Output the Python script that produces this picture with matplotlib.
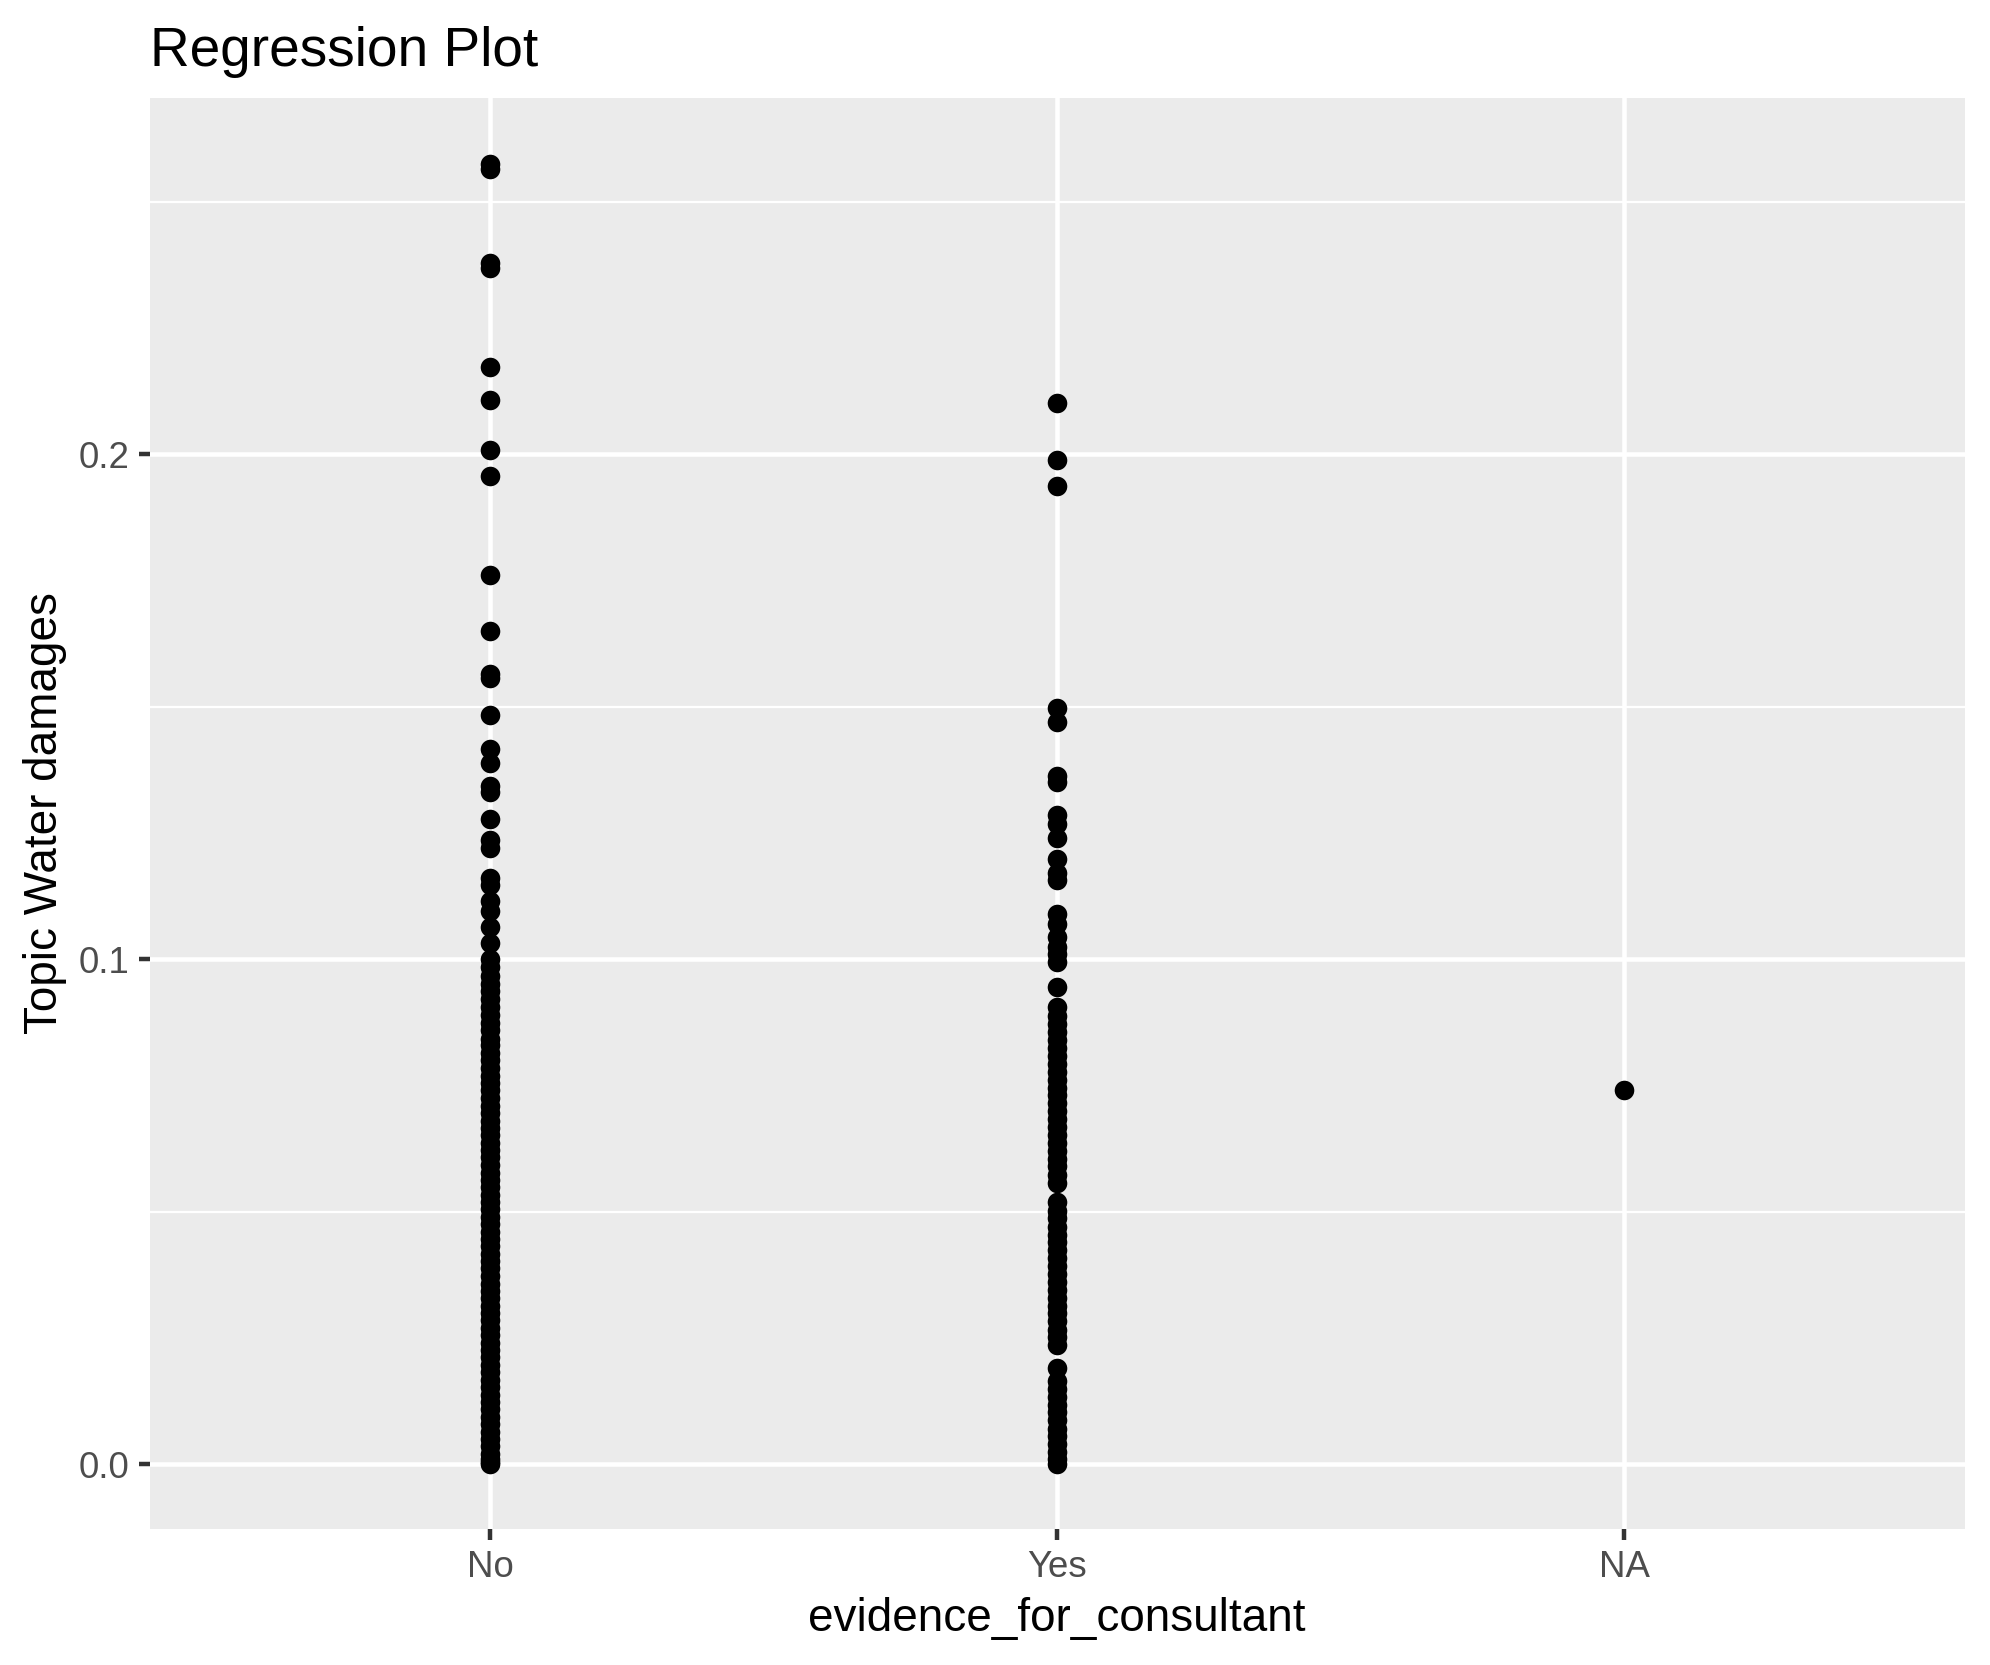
import matplotlib
matplotlib.use("Agg")
import matplotlib.pyplot as plt
from matplotlib.ticker import FixedLocator

plt.rcParams['font.family'] = ['Liberation Sans', 'DejaVu Sans']

categories = ["No", "Yes", "NA"]

no_values = [
    0.2575, 0.2565, 0.2379, 0.2369, 0.2173, 0.2108, 0.2008, 0.1957, 0.1761,
    0.1651, 0.1565, 0.1558, 0.1485, 0.1417, 0.1389, 0.1344, 0.1332, 0.1279,
    0.1236, 0.1221, 0.1161, 0.1148, 0.1116, 0.1095, 0.1065, 0.1033, 0.1000,
    0.0985, 0.0968, 0.0952, 0.0938, 0.0921, 0.0905, 0.0890, 0.0874, 0.0860,
    0.0843, 0.0830, 0.0815, 0.0800, 0.0784, 0.0770, 0.0755, 0.0741, 0.0725,
    0.0710, 0.0696, 0.0681, 0.0666, 0.0652, 0.0637, 0.0622, 0.0608, 0.0593,
    0.0578, 0.0563, 0.0549, 0.0534, 0.0520, 0.0505, 0.0490, 0.0476, 0.0461,
    0.0446, 0.0432, 0.0417, 0.0402, 0.0388, 0.0373, 0.0358, 0.0344, 0.0329,
    0.0314, 0.0300, 0.0285, 0.0270, 0.0256, 0.0241, 0.0226, 0.0212, 0.0197,
    0.0182, 0.0168, 0.0153, 0.0138, 0.0124, 0.0109, 0.0094, 0.0080, 0.0065,
    0.0050, 0.0036, 0.0021, 0.0010, 0.0004, 0.0000,
]

yes_values = [
    0.2101, 0.1990, 0.1937, 0.1497, 0.1470, 0.1364, 0.1352, 0.1286, 0.1269,
    0.1241, 0.1198, 0.1171, 0.1158, 0.1090, 0.1070, 0.1045, 0.1025, 0.1010,
    0.0995, 0.0945, 0.0905, 0.0888, 0.0872, 0.0856, 0.0840, 0.0825, 0.0809,
    0.0793, 0.0778, 0.0762, 0.0746, 0.0731, 0.0715, 0.0699, 0.0684, 0.0668,
    0.0652, 0.0637, 0.0621, 0.0605, 0.0590, 0.0574, 0.0558, 0.0520, 0.0502,
    0.0487, 0.0471, 0.0455, 0.0440, 0.0424, 0.0408, 0.0393, 0.0377, 0.0361,
    0.0346, 0.0330, 0.0314, 0.0299, 0.0283, 0.0267, 0.0252, 0.0236, 0.0190,
    0.0165, 0.0150, 0.0134, 0.0118, 0.0103, 0.0087, 0.0071, 0.0056, 0.0040,
    0.0025, 0.0010, 0.0000,
]

na_values = [0.0741]

y_ticks = [0.0, 0.1, 0.2]
y_tick_labels = ["0.0", "0.1", "0.2"]
y_minor = [0.05, 0.15, 0.25]

fig = plt.figure(figsize=(1990 / 300, 1665 / 300), dpi=300)
ax = fig.add_axes([150 / 1990, 1 - 1529 / 1665, (1964.5 - 150) / 1990, (1529 - 98) / 1665])
ax.set_facecolor("#EBEBEB")
for s in ax.spines.values():
    s.set_visible(False)

series = [no_values, yes_values, na_values]
for i, vals in enumerate(series):
    ax.scatter([i + 1] * len(vals), vals, s=4.7 ** 2, color="black",
               linewidths=0, zorder=3)

ax.set_xlim(0.4, 3.6)
ax.set_ylim(-0.0128, 0.2706)

ax.set_xticks([1, 2, 3])
ax.set_xticklabels(categories)
ax.set_yticks(y_ticks)
ax.set_yticklabels(y_tick_labels)
ax.yaxis.set_minor_locator(FixedLocator(y_minor))

ax.grid(which="major", color="white", linewidth=1.1, zorder=0)
ax.grid(which="minor", axis="y", color="white", linewidth=0.55, zorder=0)
ax.set_axisbelow(True)

ax.tick_params(which="major", length=2.75, width=1.07, color="#333333",
               labelcolor="#4D4D4D", labelsize=8.8, pad=2.2)
ax.tick_params(which="minor", length=0)

ax.set_xlabel("evidence_for_consultant", fontsize=11, color="black", labelpad=3)
ax.set_ylabel("Topic Water damages", fontsize=11, color="black", labelpad=2.7)
ax.set_title("Regression Plot", fontsize=13.2, color="black", loc="left", pad=7.8)

fig.savefig("out.png", dpi=300)
